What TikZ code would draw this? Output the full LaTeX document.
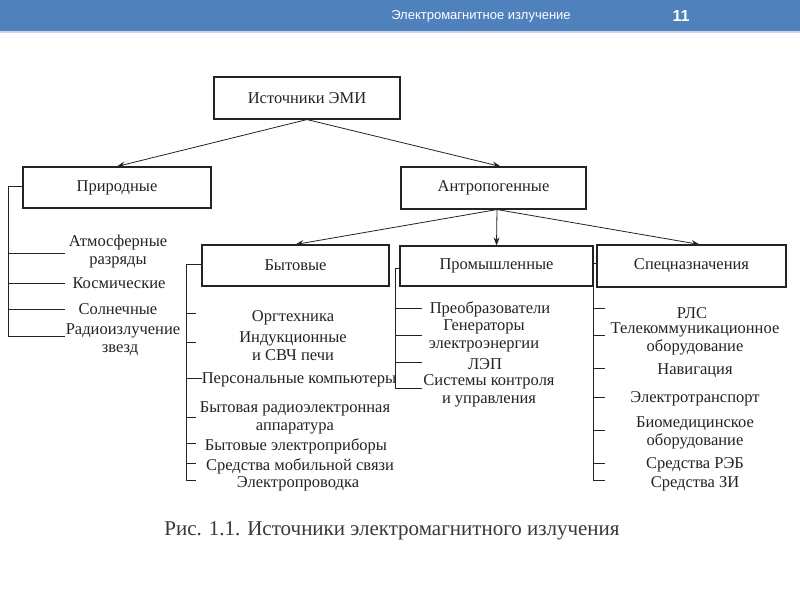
\documentclass[tikz,border=0pt]{standalone}
\usepackage{fontspec}
\setmainfont{Liberation Serif}
\newfontfamily\hdrfont{Liberation Sans}
\usetikzlibrary{arrows.meta}
\definecolor{hdrblue}{RGB}{79,129,189}
\definecolor{hdrline}{RGB}{200,215,235}
\definecolor{ink}{RGB}{35,35,35}
\begin{document}
\begin{tikzpicture}[x=1pt,y=-1pt,
 box/.style={draw=ink, line width=1.1pt, inner sep=0pt, font=\fontsize{16.5}{18}\selectfont, text=ink},
 item/.style={font=\fontsize{16.5}{18}\selectfont, align=center, inner sep=0pt, text=ink},
 arr/.style={draw=ink, line width=0.8pt, -{Stealth[length=8pt,width=6pt]}},
 brk/.style={draw=ink, line width=0.8pt}]
\useasboundingbox (0,0) rectangle (800,600);
\fill[white] (0,0) rectangle (800,600);
\fill[hdrblue] (0,0) rectangle (800,31);
\fill[hdrline] (0,31) rectangle (800,33);
\node[font=\hdrfont\fontsize{13}{15}\selectfont, text=white] (title) at (481,16) {Электромагнитное излучение};
\node[font=\hdrfont\bfseries\fontsize{16}{18}\selectfont, text=white] (pnum) at (681,16) {11};

% boxes
\node[box, minimum width=186pt, minimum height=42pt] (emi) at (307,98) {Источники ЭМИ};
\node[box, minimum width=188pt, minimum height=41pt] (nat) at (117,187.5) {Природные};
\node[box, minimum width=185pt, minimum height=42pt] (antr) at (493.5,188) {Антропогенные};
\node[box, minimum width=187pt, minimum height=41pt] (byt) at (295.5,265.5) {Бытовые};
\node[box, minimum width=193pt, minimum height=40pt] (prom) at (496.5,266) {Промышленные};
\node[box, minimum width=189pt, minimum height=42pt] (spec) at (691.5,266) {Спецназначения};

% arrows
\draw[arr] (emi.south) -- (nat.north);
\draw[arr] (emi.south) -- ([xshift=7pt]antr.north);
\coordinate (aout) at ([xshift=3.5pt]antr.south);
\draw[arr] (aout) -- (byt.north);
\draw[arr] (aout) -- (prom.north);
\draw[arr] (aout) -- ([xshift=8pt]spec.north);

% natural items
\node[item] (n1) at (118,252) {Атмосферные\\разряды};
\node[item] (n2) at (119,283) {Космические};
\node[item] (n3) at (118,309) {Солнечные};
\node[item] (n4) at (123,340) {Радиоизлучение\\\hspace*{-6pt}звезд};
\draw[brk] (nat.west |- 0,186) -- (8,186) -- (8,336) -- (65,336);
\foreach \y in {253,283,309} \draw[brk] (8,\y) -- (65,\y);

% household items
\node[item] (b1) at (293,317.75) {Оргтехника};
\node[item] (b2) at (293,346) {Индукционные\\и СВЧ печи};
\node[item] (b3) at (299,379.75) {Персональные компьютеры};
\node[item] (b4) at (295,417.7) {Бытовая радиоэлектронная\\аппаратура};
\node[item] (b5) at (296,446.75) {Бытовые электроприборы};
\node[item] (b6) at (300,466.75) {Средства мобильной связи};
\node[item] (b7) at (298,483.75) {Электропроводка};
\draw[brk] (byt.west |- 0,264) -- (186,264) -- (186,480) -- (196,480);
\foreach \y in {313,342,417,443,463} \draw[brk] (186,\y) -- (196,\y);
\draw[brk] (186,378) -- (b3.west |- 0,378);

% industrial items
\node[item] (p1) at (490,309.75) {Преобразователи};
\node[item] (p2) at (484,335.7) {Генераторы\\электроэнергии};
\node[item] (p3) at (485,364) {ЛЭП};
\node[item] (p4) at (489,390.7) {Системы контроля\\и управления};
\draw[brk] (prom.west |- 0,268) -- (395,268) -- (395,388) -- (422,388);
\foreach \y in {308,335,362} \draw[brk] (395,\y) -- (422,\y);

% special items
\node[item] (s1) at (692,313) {РЛС};
\node[item] (s2) at (695,338.7) {Телекоммуникационное\\оборудование};
\node[item] (s3) at (695,371) {Навигация};
\node[item] (s4) at (695,398.75) {Электротранспорт};
\node[item] (s5) at (695,432.7) {Биомедицинское\\оборудование};
\node[item] (s6) at (695,464.75) {Средства РЭБ};
\node[item] (s7) at (695,483.75) {Средства ЗИ};
\draw[brk] (spec.west |- 0,263) -- (593,263) -- (593,480) -- (605,480);
\foreach \y in {308,335,368,397,430,463} \draw[brk] (593,\y) -- (605,\y);

% caption
\node[font=\fontsize{21}{24}\selectfont, text=black!78, inner sep=0pt] (cap) at (392,531) {Рис. 1.1. Источники электромагнитного излучения};
\end{tikzpicture}
\end{document}
